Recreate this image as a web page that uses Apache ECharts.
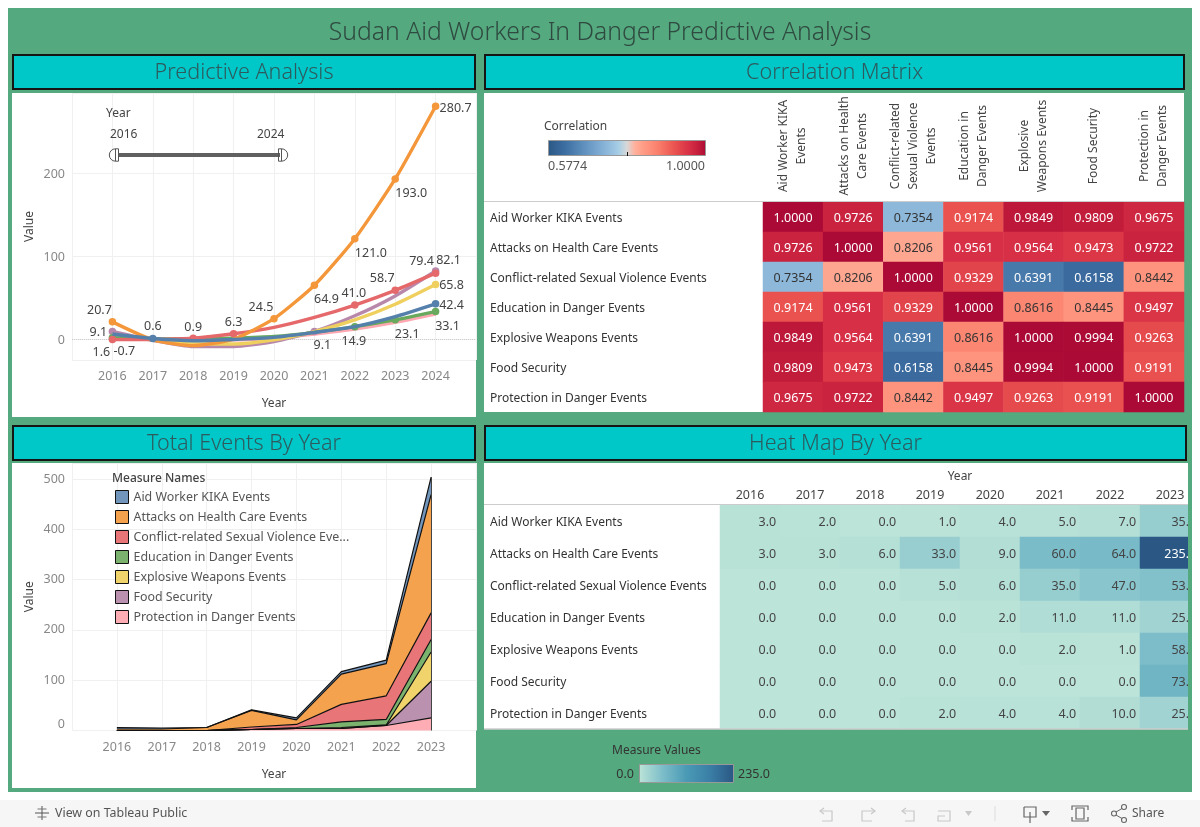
<!DOCTYPE html>
<html>
<head>
<meta charset="utf-8">
<style>html,body{margin:0;padding:0;background:#fff}#c{width:1200px;height:827px}</style>
<script src="https://cdn.jsdelivr.net/npm/echarts@6/dist/echarts.min.js"></script>
</head>
<body>
<div id="c"></div>
<script>
// ---------- data ----------
const measures = ['Aid Worker KIKA Events','Attacks on Health Care Events','Conflict-related Sexual Violence Events','Education in Danger Events','Explosive Weapons Events','Food Security','Protection in Danger Events'];
const eventYears = [2016,2017,2018,2019,2020,2021,2022,2023];
const trendYears = [2016,2017,2018,2019,2020,2021,2022,2023,2024];
const stackAxisYears = ['2015','2016','2017','2018','2019','2020','2021','2022','2023','2024'];

const eventsKika = [3,2,0,1,4,5,7,35];
const eventsAttacks = [3,3,6,33,9,60,64,235];
const eventsConflict = [0,0,0,5,6,35,47,53];
const eventsEducation = [0,0,0,0,2,11,11,25];
const eventsExplosive = [0,0,0,0,0,2,1,58];
const eventsFood = [0,0,0,0,0,0,0,73];
const eventsProtection = [0,0,0,2,4,4,10,25];

const trendKika = [6,0.6,-2,-0.5,2,8,15,27,42.4];
const trendAttacks = [20.7,-1,-8,0,24.5,64.9,121,193,280.7];
const trendConflict = [-0.7,-0.5,0.9,6.3,14,26,41,58.7,79.4];
const trendEducation = [1.6,0,0,1,3,8,14.9,23.1,33.1];
const trendExplosive = [5,-1,-6,-6,-1,9,23,42,65.8];
const trendFood = [9.1,-1.5,-9,-9,-3,9.1,28,52,82.1];
const trendProtection = [3,-0.5,-2,-1,1,6,12,20,30];

const corrKika = [1.0000,0.9726,0.7354,0.9174,0.9849,0.9809,0.9675];
const corrAttacks = [0.9726,1.0000,0.8206,0.9561,0.9564,0.9473,0.9722];
const corrConflict = [0.7354,0.8206,1.0000,0.9329,0.6391,0.6158,0.8442];
const corrEducation = [0.9174,0.9561,0.9329,1.0000,0.8616,0.8445,0.9497];
const corrExplosive = [0.9849,0.9564,0.6391,0.8616,1.0000,0.9994,0.9263];
const corrFood = [0.9809,0.9473,0.6158,0.8445,0.9994,1.0000,0.9191];
const corrProtection = [0.9675,0.9722,0.8442,0.9497,0.9263,0.9191,1.0000];

const corrHeaders = ['Aid Worker KIKA\nEvents','Attacks on Health\nCare Events','Conflict-related\nSexual Violence\nEvents','Education in\nDanger Events','Explosive\nWeapons Events','Food Security','Protection in\nDanger Events'];

// ---------- styling / layout (separate from the data) ----------
const FONT = '"Noto Sans", sans-serif';
const GREEN = '#55a97f', CYAN = '#00c7c8', AX = '#888', GRIDC = '#f0f0f0';
const lineColors = ['#5480ab','#f4973a','#e5686b','#68a95e','#efd05f','#b888ab','#ffa8b1'];
const areaColors = ['#7295bc','#f5a24f','#e87577','#7ab26e','#f0d36b','#bb91b0','#ffadb5'];
const corrStops = ['#2a5783','#336293','#3b6ca0','#497aac','#5789b8','#6696c3','#75a3cd','#85b1d6','#96bfdf','#a9cfe5','#d8d8d8','#ffb09c','#ff9d87','#fd8e79','#f97e6b','#f2685d','#ea5450','#e0404a','#d62e45','#c41e3c','#ab0a36'];
const heatStops = ['#bce4d8','#7cbdc9','#4a9ab5','#3a7ea6','#2a5783'];

const events = [eventsKika,eventsAttacks,eventsConflict,eventsEducation,eventsExplosive,eventsFood,eventsProtection];
const trends = [trendKika,trendAttacks,trendConflict,trendEducation,trendExplosive,trendFood,trendProtection];
const corr = [corrKika,corrAttacks,corrConflict,corrEducation,corrExplosive,corrFood,corrProtection];

// which trend points carry a marker and label: [measure, year index, dx, dy]
const trendMarks = [
 [1,0,-13,-11],[1,4,-13,-11],[1,5,12,14],[1,6,16,15],[1,7,16,14],[1,8,20,2],
 [0,1,0,-12],[0,8,16,2],
 [2,0,12,12],[2,2,0,-11],[2,3,0,-11],[2,6,-1,-12],[2,7,-13,-12],[2,8,-14,-12],
 [5,0,-14,1],[5,5,8,14],[5,8,13,-11],
 [4,8,16,1],
 [3,0,-11,15],[3,6,-1,15],[3,7,12,15],[3,8,12,15]
];

const axisNameStyle = {color:'#444',fontFamily:FONT,fontSize:12};
const tickLabel = {color:AX,fontFamily:FONT,fontSize:12.5};
// a label hung from its anchor on a thin line box sits just below centre
const nudged = (px)=>({verticalAlign:'top',lineHeight:px*2});
function xYearAxis(gridIndex,min,max){
  return {type:'value',gridIndex,min,max,interval:1,
    name:'Year',nameLocation:'center',nameGap:38,nameTextStyle:axisNameStyle,
    axisLine:{show:false},axisTick:{show:false},
    axisLabel:Object.assign({},tickLabel,{margin:10,
      formatter:v=>(v===min||v===max)?'':String(v)}),
    splitLine:{show:true,lineStyle:{color:GRIDC,width:1}}};
}
function yValueAxis(gridIndex,min,max,extraLabel){
  return {type:'value',gridIndex,min,max,minInterval:100,maxInterval:100,
    name:'Value',nameLocation:'center',nameGap:36,nameRotate:90,nameTextStyle:axisNameStyle,
    axisLine:{show:false},axisTick:{show:false},
    axisLabel:Object.assign({},tickLabel,{margin:7,
      formatter:v=>(v%100===0)?String(v):''},extraLabel||{}),
    splitLine:{show:true,lineStyle:{color:GRIDC,width:1}}};
}

const series = [];
// stacked areas: index 0..6, lowest layer first
[6,5,4,3,2,1,0].forEach(m=>{
  series.push({type:'line',name:measures[m],xAxisIndex:1,yAxisIndex:1,stack:'events',symbol:'none',showSymbol:false,
    data:eventYears.map((y,i)=>[String(y),events[m][i]]),
    itemStyle:{color:areaColors[m]},
    lineStyle:{color:'#111',width:1.2},
    areaStyle:{color:areaColors[m],opacity:1},z:3});
});
series[6].markLine = {silent:true,symbol:'none',label:{show:false},lineStyle:{color:'#444',width:1,type:'solid'},
  data:[[{coord:['2023',0]},{coord:['2023',events.reduce((a,e)=>a+e[7],0)]}]]};

// trend lines, bottom to top
[6,5,4,3,2,1,0].forEach((m,order)=>{
  series.push({type:'line',name:measures[m],xAxisIndex:0,yAxisIndex:0,smooth:0.2,showSymbol:true,showAllSymbol:true,
    symbol:'circle',symbolSize:7.5,
    lineStyle:{color:lineColors[m],width:3.4},itemStyle:{color:lineColors[m]},z:3+order*0.01,
    data:trendYears.map((y,i)=>{
      const mk = trendMarks.find(t=>t[0]===m&&t[1]===i);
      if(!mk) return {value:[y,trends[m][i]],symbol:'none'};
      return {value:[y,trends[m][i]],symbol:'circle',
        label:{show:true,position:'inside',offset:[mk[2],mk[3]],color:'#444',fontFamily:FONT,fontSize:12.5,
          formatter:p=>p.value[1].toFixed(1)}};
    })});
});
series[series.length-7].markLine = {silent:true,symbol:'none',label:{show:false},z:1,
  lineStyle:{color:'#ccc',width:1,type:'dotted'},data:[{yAxis:0}]};

// correlation matrix
const corrIdx = series.length;
series.push({type:'heatmap',xAxisIndex:2,yAxisIndex:2,
  data:corr.flatMap((r,y)=>r.map((v,x)=>({value:[x,y,v],
    label:{color:(v>0.9||v<0.7)?'#fff':'#333'}}))),
  label:Object.assign({show:true,fontFamily:FONT,fontSize:12.5,formatter:p=>p.value[2].toFixed(4)},nudged(1)),
  itemStyle:{borderWidth:0},emphasis:{disabled:true},progressive:0});
// heat map by year
const heatIdx = series.length;
series.push({type:'heatmap',xAxisIndex:3,yAxisIndex:3,
  data:events.flatMap((r,y)=>r.map((v,x)=>({value:[x,y,v],
    label:{color:v>150?'#fff':'#444'}}))),
  label:Object.assign({show:true,position:'insideRight',distance:4,fontFamily:FONT,fontSize:12.5,formatter:p=>p.value[2].toFixed(1)},nudged(1)),
  itemStyle:{borderWidth:0},emphasis:{disabled:true},progressive:0});

// ---------- decoration helpers ----------
const rect=(x,y,w,h,fill,z,extra)=>Object.assign({type:'rect',shape:{x,y,width:w,height:h},style:{fill},z,silent:true},extra||{});
const text=(x,y,t,size,color,align,weight)=>({type:'text',x,y:y+1.5,silent:true,z:50,
  style:{text:t,font:(weight?weight+' ':'')+size+'px '+FONT,fill:color,align:align||'left',verticalAlign:'middle'}});
const seg=(x1,y1,x2,y2,c,w,z)=>({type:'line',shape:{x1,y1,x2,y2},style:{stroke:c,lineWidth:w||1},z:z||50,silent:true});
const poly=(pts,c,w)=>({type:'polyline',shape:{points:pts},style:{stroke:c,lineWidth:w||1,fill:null},z:50,silent:true});
const titleBox=(x,y,w,h,t)=>[
  {type:'rect',shape:{x:x+1,y:y+1,width:w-2,height:h-2},style:{fill:CYAN,stroke:'#151515',lineWidth:2},z:1,silent:true},
  text(x+w/2,y+h/2-0.5,t,21.6,'#2e5a5e','center','300')];
const grad=(stops)=>new echarts.graphic.LinearGradient(0,0,1,0,stops.map((c,i)=>({offset:i/(stops.length-1),color:c})));

const UND='#c8c8c8', TOOL='#666';
const graphicEls = [
  rect(8,8,1184,784,GREEN,-10),
  rect(0,800,1200,27,'#f6f6f6',-10),
  rect(12,93,464,324,'#fff',-9), rect(484,93,700,319,'#fff',-9),
  rect(12,463,464,325,'#fff',-9), rect(484,463,704,266,'#fff',-9),
  text(600,31,'Sudan Aid Workers In Danger Predictive Analysis',24.7,'#2f4a40','center','300'),
  ...titleBox(12,54,464,36,'Predictive Analysis'),
  ...titleBox(484,54,701,36,'Correlation Matrix'),
  ...titleBox(12,425,464,36,'Total Events By Year'),
  ...titleBox(484,425,703,36,'Heat Map By Year'),
  // year slider
  text(106,112,'Year',12,'#444'),
  text(110,133,'2016',12,'#444'), text(257,133,'2024',12,'#444'),
  rect(118,153,162,4,'#606060',50),
  {type:'sector',shape:{cx:115.5,cy:155,r:6.2,r0:0,startAngle:Math.PI/2,endAngle:Math.PI*3/2,clockwise:true},style:{fill:'#fff',stroke:'#555',lineWidth:1},z:51,silent:true},
  seg(115.5,148.8,118.5,148.8,'#555',1,51),seg(115.5,161.2,118.5,161.2,'#555',1,51),seg(118.5,148.8,118.5,161.2,'#555',1,51),
  {type:'sector',shape:{cx:281.5,cy:155,r:6.2,r0:0,startAngle:-Math.PI/2,endAngle:Math.PI/2,clockwise:true},style:{fill:'#fff',stroke:'#555',lineWidth:1},z:51,silent:true},
  seg(278.5,148.8,281.5,148.8,'#555',1,51),seg(278.5,161.2,281.5,161.2,'#555',1,51),seg(278.5,148.8,278.5,161.2,'#555',1,51),
  // corr legend
  text(544,125,'Correlation',12,'#444'),
  {type:'rect',shape:{x:548.5,y:140.5,width:157,height:15},style:{fill:grad(corrStops),stroke:'#999',lineWidth:1},z:50,silent:true},
  seg(627.5,152,627.5,156,'#111',1,51),
  text(548,165,'0.5774',12.5,'#555'),
  text(705,165,'1.0000',12.5,'#555','right'),
  seg(484,201.5,1184,201.5,'#ccc',1,40),
  // heat legend
  text(612,749,'Measure Values',12,'#333'),
  {type:'rect',shape:{x:639.5,y:764.5,width:94,height:18},style:{fill:grad(heatStops),stroke:'#999',lineWidth:1},z:50,silent:true},
  text(634,772.5,'0.0',12.5,'#333','right'),
  text(738,772.5,'235.0',12.5,'#333'),
  seg(484,504.5,1188,504.5,'#ccc',1,40),
  seg(484,729,1188,729,'#ccc',1.5,90),
  // crop the table that runs off its pane
  rect(1188,463,4,329,GREEN,95), rect(1192,463,8,329,'#fff',95),
  // toolbar
  seg(42,806,42,820,'#555',1), seg(35,813,49,813,'#555',1), seg(37.5,809,46.5,809,'#777',1), seg(37.5,817,46.5,817,'#777',1),
  text(55,812,'View on Tableau Public',12.4,'#555'),
  poly([[824,808],[820,811],[824,814]],UND,1.2), poly([[820,811],[832,811],[832,821],[822,821]],UND,1.2),
  poly([[871,808],[875,811],[871,814]],UND,1.2), poly([[875,811],[862,811],[862,821],[872,821]],UND,1.2),
  poly([[906,808],[902,811],[906,814]],UND,1.2), poly([[902,811],[914,811],[914,821],[905,821]],UND,1.2),
  poly([[938,811],[950,811],[950,821],[938,821],[938,816],[945,816]],UND,1.2),
  {type:'polygon',shape:{points:[[965,811],[972,811],[968.5,816]]},style:{fill:UND},z:50,silent:true},
  seg(995,806,995,821,'#ddd',1),
  poly([[1024,807],[1036,807],[1036,817],[1024,817],[1024,807]],TOOL,1.2), seg(1030,812,1030,823,TOOL,1.2),
  {type:'polygon',shape:{points:[[1042,811],[1050,811],[1046,816]]},style:{fill:TOOL},z:50,silent:true},
  {type:'rect',shape:{x:1076,y:808,width:8,height:11},style:{fill:'none',stroke:TOOL,lineWidth:1.2},z:50,silent:true},
  poly([[1072,810],[1072,806],[1088,806],[1088,810]],TOOL,1.2), poly([[1072,817],[1072,821],[1088,821],[1088,817]],TOOL,1.2),
  {type:'circle',shape:{cx:1124,cy:807,r:2.5},style:{fill:'none',stroke:TOOL,lineWidth:1.1},z:50,silent:true},
  {type:'circle',shape:{cx:1114,cy:813.5,r:2.5},style:{fill:'none',stroke:TOOL,lineWidth:1.1},z:50,silent:true},
  {type:'circle',shape:{cx:1124,cy:820,r:2.5},style:{fill:'none',stroke:TOOL,lineWidth:1.1},z:50,silent:true},
  seg(1116,812,1122,808.5,TOOL,1), seg(1116,815,1122,818.5,TOOL,1),
  text(1132,812,'Share',12,'#555'),
  text(112,477,'Measure Names',12,'#444',null,'500')
];

const option = {
  animation:false,
  backgroundColor:'#fff',
  textStyle:{fontFamily:FONT},
  grid:[
    {left:72,top:93,width:404,height:267},
    {left:72,top:463,width:404,height:267.5},
    {left:763,top:202,width:421,height:210},
    {left:720,top:505,width:480,height:224}
  ],
  xAxis:[
    xYearAxis(0,2015,2025),
    {type:'category',gridIndex:1,boundaryGap:false,data:stackAxisYears,
      name:'Year',nameLocation:'center',nameGap:38,nameTextStyle:axisNameStyle,
      axisLine:{show:false},axisTick:{show:false},
      axisLabel:Object.assign({},tickLabel,{interval:0,margin:10,
        formatter:(v,i)=>(i===0||i===stackAxisYears.length-1)?'':v}),
      splitLine:{show:true,interval:0,lineStyle:{color:GRIDC,width:1}}},
    {type:'category',gridIndex:2,position:'top',data:corrHeaders,
      axisLine:{show:false},axisTick:{show:false},splitLine:{show:false},
      axisLabel:{interval:0,rotate:-90,align:'center',verticalAlign:'middle',margin:56,color:'#444',fontFamily:FONT,fontSize:12,lineHeight:18}},
    {type:'category',gridIndex:3,position:'top',data:eventYears.map(String),
      name:'Year',nameLocation:'center',nameGap:22,nameTextStyle:axisNameStyle,
      axisLine:{show:false},axisTick:{show:false},splitLine:{show:false},
      axisLabel:{interval:0,margin:3,color:'#444',fontFamily:FONT,fontSize:12.5}}
  ],
  yAxis:[
    yValueAxis(0,-25.3,296.7,nudged(1)),
    yValueAxis(1,0,532,{verticalAlignMinLabel:'bottom'}),
    {type:'category',gridIndex:2,inverse:true,data:measures,
      axisLine:{show:false},axisTick:{show:false},splitLine:{show:false},
      axisLabel:Object.assign({interval:0,align:'left',margin:273,color:'#333',fontFamily:FONT,fontSize:12},nudged(1.5))},
    {type:'category',gridIndex:3,inverse:true,data:measures,
      axisLine:{show:false},axisTick:{show:false},splitLine:{show:false},
      axisLabel:Object.assign({interval:0,align:'left',margin:230,color:'#333',fontFamily:FONT,fontSize:12},nudged(1.5))}
  ],
  legend:{show:true,orient:'vertical',left:115,top:490,padding:0,itemWidth:13,itemHeight:13,itemGap:6,selectedMode:false,
    icon:'rect',data:measures,
    itemStyle:{borderColor:'#111',borderWidth:1},
    textStyle:{color:'#555',fontFamily:FONT,fontSize:12.4},
    formatter:n=>n.length>36?n.slice(0,36)+'...':n},
  visualMap:[
    {show:false,type:'continuous',seriesIndex:corrIdx,dimension:2,min:0.5774,max:1,inRange:{color:corrStops}},
    {show:false,type:'continuous',seriesIndex:heatIdx,dimension:2,min:0,max:235,inRange:{color:heatStops}}
  ],
  series,
  graphic:{elements:graphicEls}
};
const chart = echarts.init(document.getElementById('c'),null,{renderer:'canvas'});
chart.setOption(option);
</script>
</body>
</html>
